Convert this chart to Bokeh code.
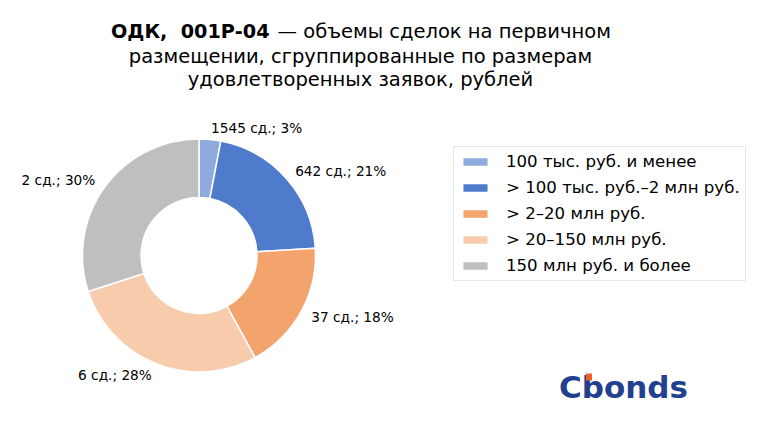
import numpy as np
from bokeh.plotting import figure
from bokeh.models import ColumnDataSource, Range1d, Legend, LegendItem
from bokeh.core.properties import value
from bokeh.embed import file_html
from bokeh.resources import INLINE

# ---- data ----
categories = ["100 тыс. руб. и менее", "> 100 тыс. руб.–2 млн руб.",
              "> 2–20 млн руб.", "> 20–150 млн руб.", "150 млн руб. и более"]
deals = [1545, 642, 37, 6, 2]
shares = [3, 21, 18, 28, 30]
colors = ["#8FAADC", "#4E7BCB", "#F3A46D", "#F8CBAD", "#BFBFBF"]
title_bold = "ОДК,\u00a0 001Р-04"
title_rest = "— объемы сделок на первичном"
title_lines = ["размещении, сгруппированные по размерам", "удовлетворенных заявок, рублей"]
logo_text = "Cbonds"

W, H = 759, 413
def px(x):
    return x
def py(y):
    return H - y

p = figure(width=W, height=H, x_range=Range1d(0, W), y_range=Range1d(0, H),
           toolbar_location=None, output_backend="svg", min_border=0)
p.axis.visible = False
p.grid.visible = False
p.outline_line_color = None
p.background_fill_color = "white"

cx, cy = px(198.5), py(255)
R, r_in = 116.5, 58

vals = np.array(shares, dtype=float)
frac = vals / vals.sum()
cum = np.cumsum(frac)
start = np.pi / 2 - 2 * np.pi * (cum - frac)
end = np.pi / 2 - 2 * np.pi * cum
mid = np.pi / 2 - 2 * np.pi * (cum - frac / 2)

src = ColumnDataSource(dict(cat=categories, start=start, end=end, color=colors))
wr = p.annular_wedge(x=cx, y=cy, inner_radius=r_in, outer_radius=R,
                     start_angle="start", end_angle="end", direction="clock",
                     fill_color="color", line_color="white", line_width=1.5, source=src)

lab_r = 1.1 * R
lx = cx + lab_r * np.cos(mid)
ly = cy + lab_r * np.sin(mid)
align = ["left" if np.cos(m) > 0 else "right" for m in mid]
labels = [f"{d} сд.; {s}%" for d, s in zip(deals, shares)]
lsrc = ColumnDataSource(dict(x=lx, y=ly, t=labels, a=align))
p.text(x="x", y="y", text="t", text_align="a", text_baseline="middle",
       text_font=value("DejaVu Sans"), text_font_size="13.7px", text_color="#000000", source=lsrc)

# title
p.text(x=[px(269)], y=[py(31)], text=[title_bold], text_align="right", text_baseline="middle",
       text_font=value("DejaVu Sans"), text_font_style="bold", text_font_size="19.2px", text_color="#000000")
p.text(x=[px(277)], y=[py(31)], text=[title_rest], text_align="left", text_baseline="middle",
       text_font=value("DejaVu Sans"), text_font_size="19.5px", text_color="#000000")
p.text(x=[px(360), px(360)], y=[py(55.5), py(79)], text=title_lines, text_align="center",
       text_baseline="middle", text_font=value("DejaVu Sans"), text_font_size="19.5px",
       text_color="#000000")

# logo
p.text(x=[px(558.5)], y=[py(386.5)], text=[logo_text], text_align="left", text_baseline="middle",
       text_font=value("DejaVu Sans"), text_font_style="bold", text_font_size="31px", text_color="#22408F")
p.quad(left=[px(585.5)], right=[px(591.5)], top=[py(373)], bottom=[py(380)],
       fill_color="#E8622C", line_color=None)

items = [LegendItem(label=c, renderers=[wr], index=i) for i, c in enumerate(categories)]
legend = Legend(items=items, location=(px(453), py(281)), glyph_width=32, glyph_height=11,
                label_height=18, spacing=7, padding=5, label_standoff=15, margin=0,
                label_text_font="DejaVu Sans", label_text_font_size="16.6px",
                label_text_color="#000000", border_line_color="#CCCCCC", border_line_width=1,
                background_fill_color="white", background_fill_alpha=1)
p.add_layout(legend)

open("out.html", "w").write(file_html(p, INLINE))
